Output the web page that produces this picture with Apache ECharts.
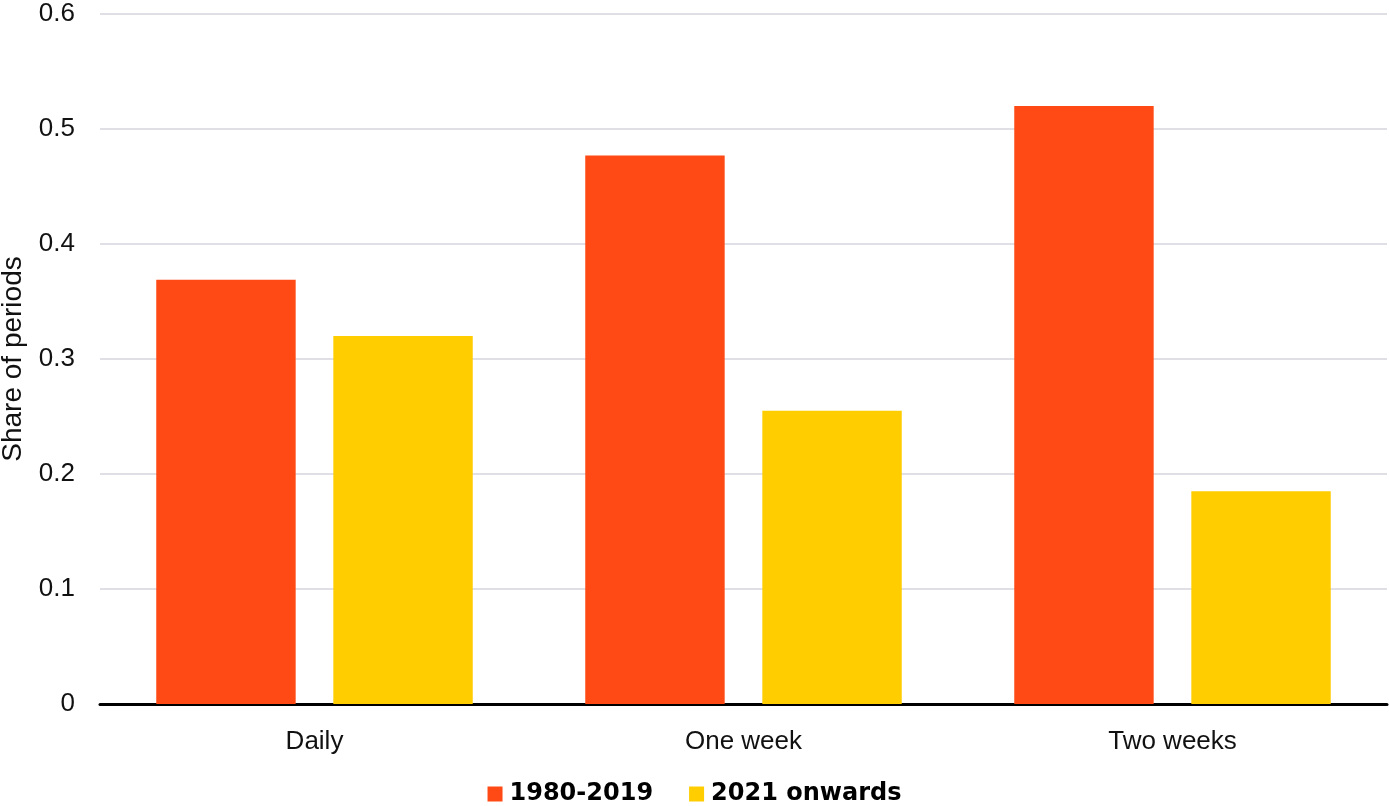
<!DOCTYPE html>
<html>
<head>
<meta charset="utf-8">
<title>Share of periods</title>
<script src="https://cdn.jsdelivr.net/npm/echarts@6/dist/echarts.min.js"></script>
<style>
  html, body { margin: 0; padding: 0; background: #ffffff; }
  #chart { width: 1389px; height: 806px; }
</style>
</head>
<body>
<div id="chart"></div>
<script>
// Horizons over which periods are compared
const categories = ['Daily', 'One week', 'Two weeks'];

// Share of periods for each era
const series1980to2019 = [0.369, 0.477, 0.520];
const series2021on = [0.320, 0.255, 0.185];

const seriesNames = ['1980-2019', '2021 onwards'];
const yTicks = { min: 0, max: 0.6, interval: 0.1 };

const FONT = '"Liberation Sans", Arial, sans-serif';
const LEGEND_FONT = '"DejaVu Sans", sans-serif';

const chart = echarts.init(document.getElementById('chart'), null, { renderer: 'canvas' });

chart.setOption({
  animation: false,
  backgroundColor: '#ffffff',
  grid: { left: 100, right: 2, top: 14, bottom: 102, containLabel: false, outerBoundsMode: 'none' },
  legend: {
    data: seriesNames,
    top: 782,
    left: 'center',
    padding: 0,
    itemWidth: 15,
    itemHeight: 15,
    itemGap: 36,
    icon: 'rect',
    textStyle: { fontFamily: LEGEND_FONT, fontSize: 24, fontWeight: 'bold', color: '#000000', padding: [6, 0, 0, 2] }
  },
  xAxis: {
    type: 'category',
    data: categories,
    axisLine: { show: true, lineStyle: { color: '#000000', width: 3 } },
    axisTick: { show: false },
    axisLabel: { fontFamily: FONT, fontSize: 26, color: '#111111', margin: 25 }
  },
  yAxis: {
    type: 'value',
    min: yTicks.min,
    max: yTicks.max,
    interval: yTicks.interval,
    name: 'Share of periods',
    nameLocation: 'middle',
    nameGap: 73,
    nameTextStyle: { fontFamily: FONT, fontSize: 28, color: '#111111' },
    axisLine: { show: false },
    axisTick: { show: false },
    axisLabel: {
      fontFamily: FONT, fontSize: 26, color: '#111111', margin: 25,
      formatter: v => (v === 0 ? '0' : v.toFixed(1))
    },
    splitLine: { show: true, lineStyle: { color: '#d6d5dc', width: 1.5 } }
  },
  series: [
    {
      name: seriesNames[0],
      type: 'bar',
      data: series1980to2019,
      barWidth: '32.5%',
      barGap: '27%',
      itemStyle: { color: '#ff4a15' }
    },
    {
      name: seriesNames[1],
      type: 'bar',
      data: series2021on,
      barWidth: '32.5%',
      itemStyle: { color: '#ffcd00' }
    }
  ]
});
</script>
</body>
</html>
